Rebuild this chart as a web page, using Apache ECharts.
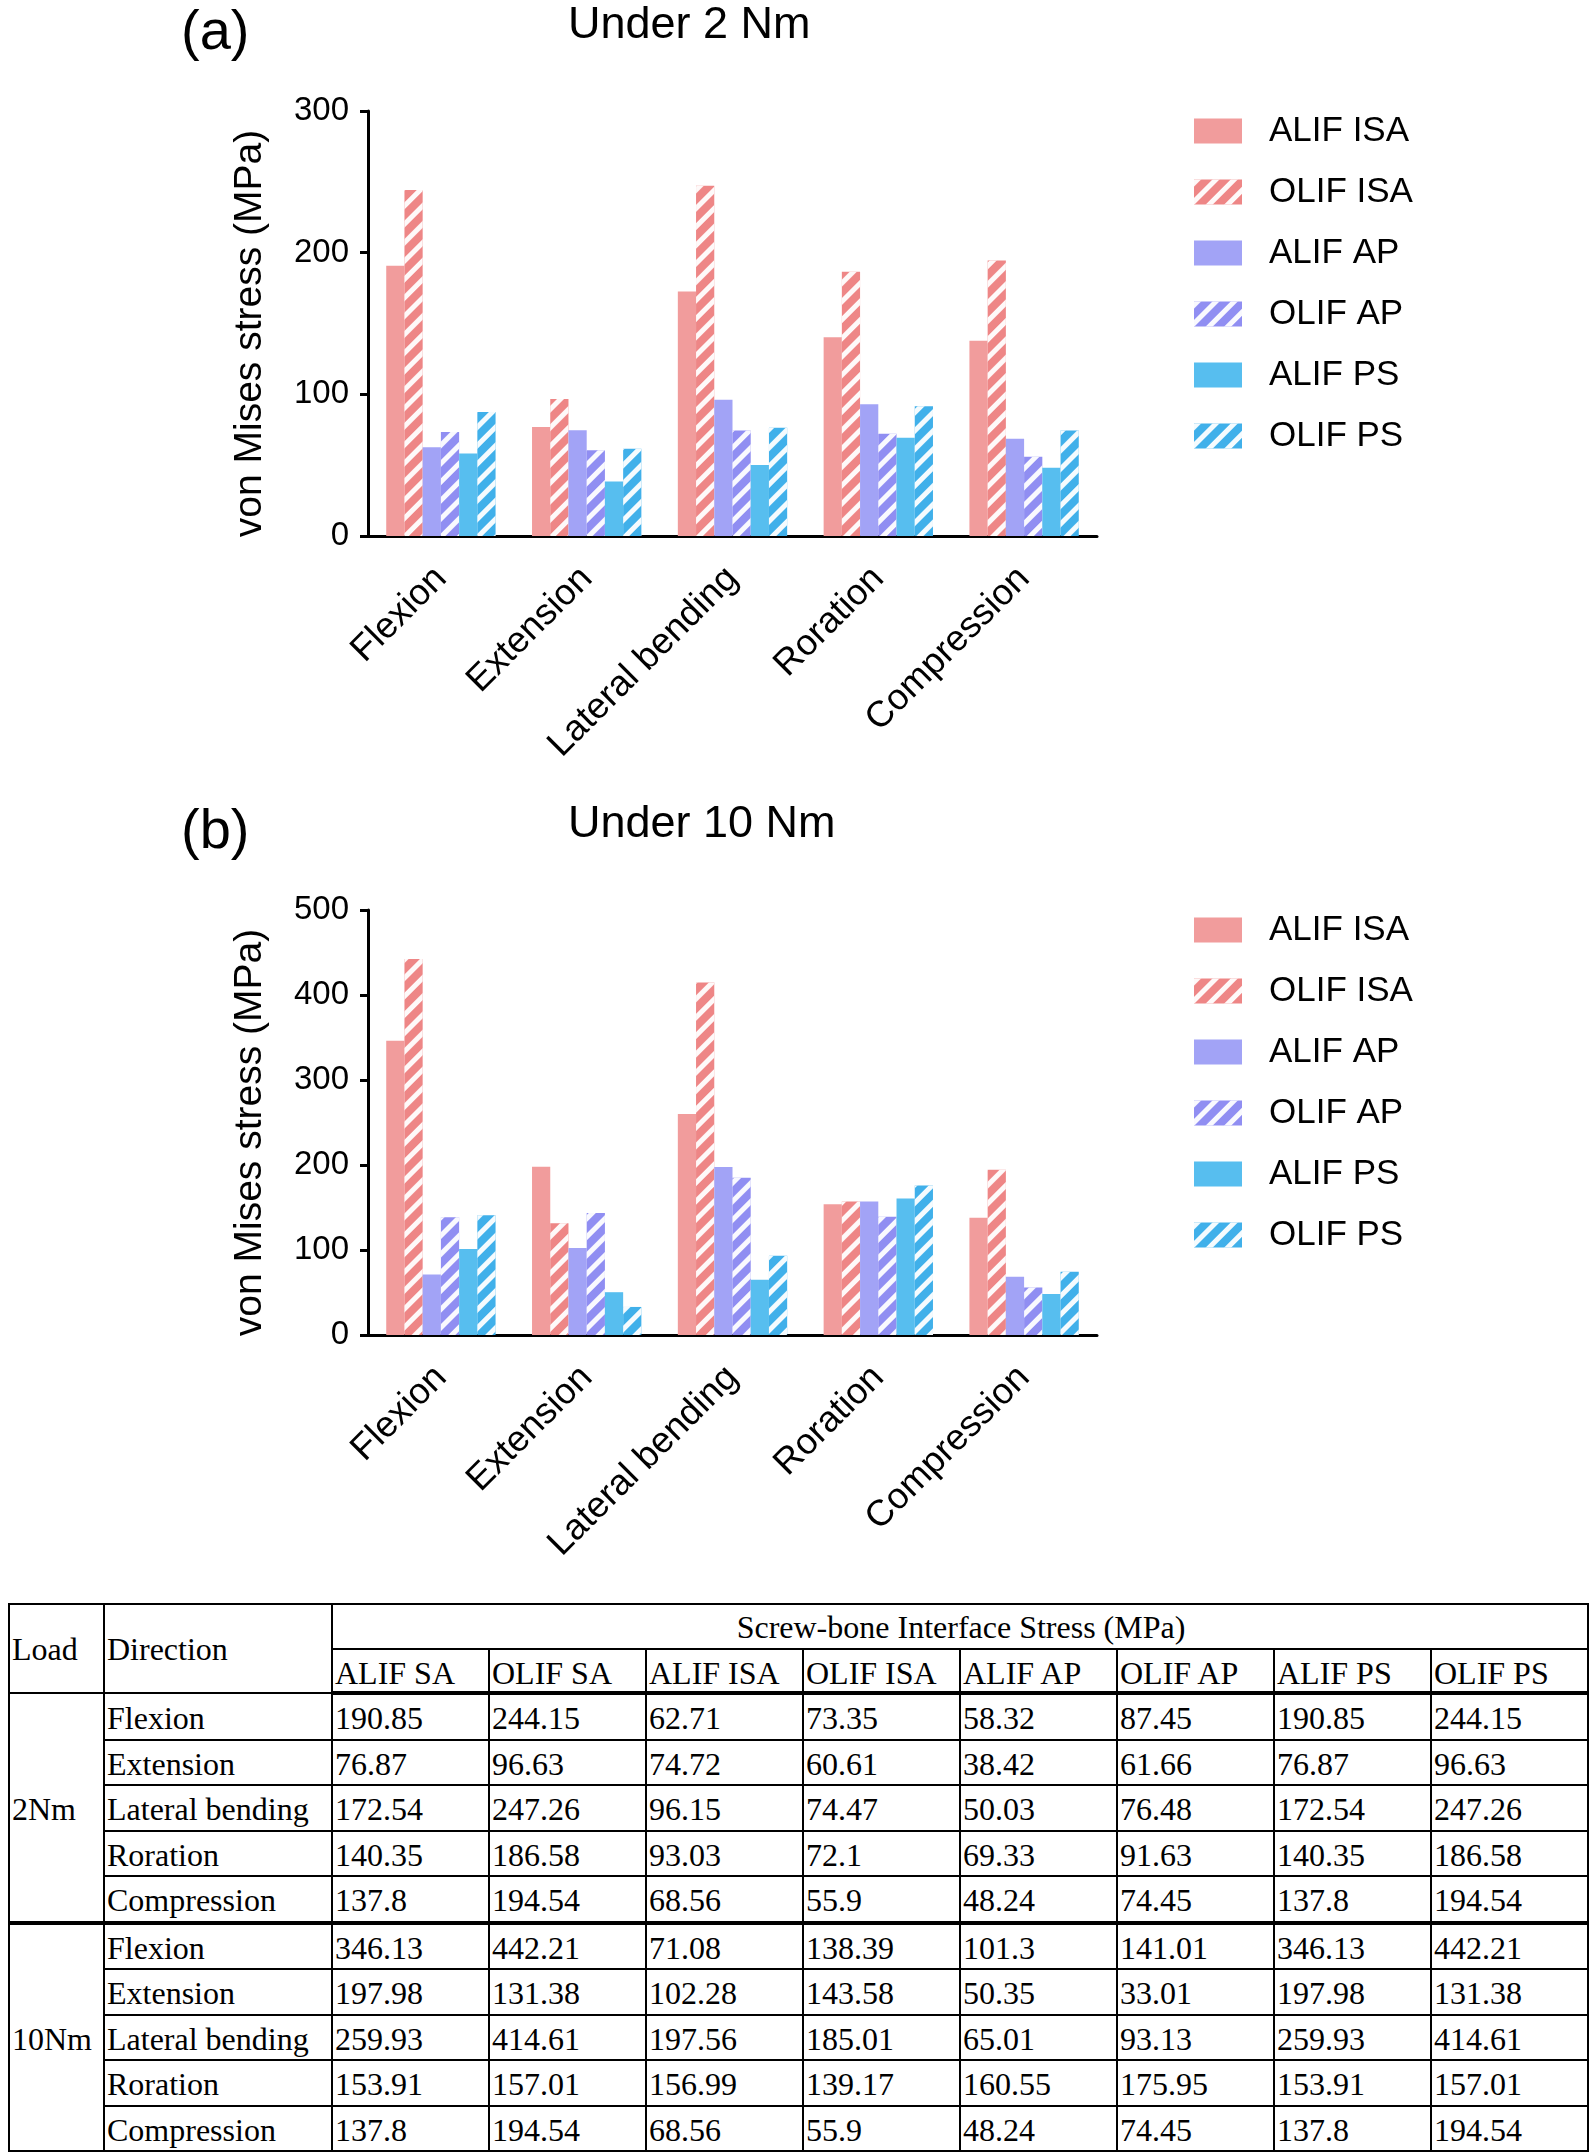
<!DOCTYPE html>
<html>
<head>
<meta charset="utf-8">
<script src="https://cdn.jsdelivr.net/npm/echarts@6/dist/echarts.min.js"></script>
<style>
  html, body { margin: 0; padding: 0; background: #fff; }
  body { width: 1594px; height: 2156px; position: relative; overflow: hidden; }
  #chart { position: absolute; left: 0; top: 0; width: 1594px; height: 1600px; }
  #tbl { position: absolute; left: 8px; top: 1603px; border-collapse: collapse; table-layout: fixed;
         font-family: 'Liberation Serif', 'Times New Roman', serif; font-size: 32px; color: #000; }
  #tbl td { border: 2px solid #000; padding: 0 0 0 2px; line-height: 1; vertical-align: middle; white-space: nowrap; overflow: hidden; }
  #tbl td.c { text-align: center; }
  #tbl tr.h1 td { height: 43px; }
  #tbl tr.h2 td { height: 36px; padding-top: 5px; }
  #tbl tr.d td { height: 40.5px; padding-top: 3px; }
  #tbl tr.sep td { border-bottom: 4px solid #000; }
</style>
</head>
<body>
<div id="chart"></div>
<table id="tbl"></table>
<script>
// ---------------- data ----------------
const categories = ['Flexion', 'Extension', 'Lateral bending', 'Roration', 'Compression'];
const legendNames = ['ALIF ISA', 'OLIF ISA', 'ALIF AP', 'OLIF AP', 'ALIF PS', 'OLIF PS'];
const tableColumns = ['ALIF SA', 'OLIF SA', 'ALIF ISA', 'OLIF ISA', 'ALIF AP', 'OLIF AP', 'ALIF PS', 'OLIF PS'];
const loadLabels = ['2Nm', '10Nm'];
const chartTitles = ['Under 2 Nm', 'Under 10 Nm'];
const panelLabels = ['(a)', '(b)'];
const yTicks2Nm = [0, 100, 200, 300];
const yTicks10Nm = [0, 100, 200, 300, 400, 500];

// 2 Nm, per table column, rows = categories
const nm2AlifSA  = [190.85, 76.87, 172.54, 140.35, 137.8];
const nm2OlifSA  = [244.15, 96.63, 247.26, 186.58, 194.54];
const nm2AlifISA = [62.71, 74.72, 96.15, 93.03, 68.56];
const nm2OlifISA = [73.35, 60.61, 74.47, 72.1, 55.9];
const nm2AlifAP  = [58.32, 38.42, 50.03, 69.33, 48.24];
const nm2OlifAP  = [87.45, 61.66, 76.48, 91.63, 74.45];
const nm2AlifPS  = [190.85, 76.87, 172.54, 140.35, 137.8];
const nm2OlifPS  = [244.15, 96.63, 247.26, 186.58, 194.54];

// 10 Nm
const nm10AlifSA  = [346.13, 197.98, 259.93, 153.91, 137.8];
const nm10OlifSA  = [442.21, 131.38, 414.61, 157.01, 194.54];
const nm10AlifISA = [71.08, 102.28, 197.56, 156.99, 68.56];
const nm10OlifISA = [138.39, 143.58, 185.01, 139.17, 55.9];
const nm10AlifAP  = [101.3, 50.35, 65.01, 160.55, 48.24];
const nm10OlifAP  = [141.01, 33.01, 93.13, 175.95, 74.45];
const nm10AlifPS  = [346.13, 197.98, 259.93, 153.91, 137.8];
const nm10OlifPS  = [442.21, 131.38, 414.61, 157.01, 194.54];

const nm2Columns = [nm2AlifSA, nm2OlifSA, nm2AlifISA, nm2OlifISA, nm2AlifAP, nm2OlifAP, nm2AlifPS, nm2OlifPS];
const nm10Columns = [nm10AlifSA, nm10OlifSA, nm10AlifISA, nm10OlifISA, nm10AlifAP, nm10OlifAP, nm10AlifPS, nm10OlifPS];
// the bar charts show the first six table columns under the legend names
const nm2Bars = nm2Columns.slice(0, 6);
const nm10Bars = nm10Columns.slice(0, 6);

// ---------------- styles ----------------
const FONT = "'Liberation Sans', Arial, Helvetica, sans-serif";
const seriesColors = ['#F19C9C', '#EE8686', '#A2A3F6', '#908EF2', '#57BEEF', '#40B0EA'];
const hatched = [false, true, false, true, false, true];
const hatchDecal = {
  symbol: 'rect', symbolSize: 1, color: 'rgba(255,255,255,0.95)',
  dashArrayX: [1, 0], dashArrayY: [5, 8], rotation: -Math.PI / 4
};

const grids = [
  { left: 368, top: 111, width: 729, height: 425, outerBoundsMode: 'none' },
  { left: 368, top: 910, width: 729, height: 425, outerBoundsMode: 'none' }
];
const yMax = [yTicks2Nm[yTicks2Nm.length - 1], yTicks10Nm[yTicks10Nm.length - 1]];

function xAxis(i) {
  return {
    type: 'category', gridIndex: i, data: categories,
    axisLine: { lineStyle: { color: '#000', width: 3 } },
    axisTick: { alignWithLabel: true, length: 9, lineStyle: { color: '#000', width: 4 } },
    axisLabel: { interval: 0, rotate: 45, margin: 37, color: '#000', fontSize: 36.5, fontFamily: FONT }
  };
}
function yAxis(i) {
  return {
    type: 'value', gridIndex: i, min: 0, max: yMax[i], interval: 100,
    name: 'von Mises stress (MPa)', nameLocation: 'middle', nameGap: 98, nameMoveOverlap: false,
    nameTextStyle: { color: '#000', fontSize: 39, fontFamily: FONT, padding: [0, 20, 0, 0] },
    splitLine: { show: false },
    axisLine: { show: true, lineStyle: { color: '#000', width: 3 } },
    axisTick: { show: true, length: 8, lineStyle: { color: '#000', width: 3 } },
    axisLabel: { margin: 19, color: '#000', fontSize: 33, fontFamily: FONT }
  };
}

const series = [];
[nm2Bars, nm10Bars].forEach((bars, g) => {
  bars.forEach((vals, k) => {
    const itemStyle = { color: seriesColors[k] };
    if (hatched[k]) itemStyle.decal = hatchDecal;
    series.push({
      type: 'bar', name: legendNames[k], xAxisIndex: g, yAxisIndex: g,
      data: vals, barGap: '0%', barCategoryGap: '25%', itemStyle: itemStyle
    });
  });
});

function legend(top) {
  return {
    orient: 'vertical', left: 1189, top: top, data: legendNames,
    itemWidth: 48, itemHeight: 25, itemGap: 25, icon: 'rect', selectedMode: false,
    textStyle: { color: '#000', fontSize: 35, lineHeight: 36, fontFamily: FONT, padding: [0, 0, 0, 22] }
  };
}

const graphics = [];
[0, 1].forEach(g => {
  const dy = g * 799;
  graphics.push({ type: 'text', x: 568, y: 26 + dy,
    style: { text: chartTitles[g], font: '45px ' + FONT, fill: '#000', align: 'left', verticalAlign: 'middle' } });
  graphics.push({ type: 'text', x: 181, y: 34 + dy,
    style: { text: panelLabels[g], font: '56px ' + FONT, fill: '#000', align: 'left', verticalAlign: 'middle' } });
});

const chart = echarts.init(document.getElementById('chart'), null, { renderer: 'canvas' });
chart.setOption({
  animation: false,
  backgroundColor: '#fff',
  grid: grids,
  xAxis: [xAxis(0), xAxis(1)],
  yAxis: [yAxis(0), yAxis(1)],
  legend: [legend(108), legend(907)],
  series: series,
  graphic: graphics
});

// ---------------- table ----------------
const tbl = document.getElementById('tbl');
let html = '<colgroup><col style="width:95px"><col style="width:228px">';
tableColumns.forEach(() => { html += '<col style="width:157px">'; });
html += '</colgroup>';
html += '<tr class="h1"><td rowspan="2">Load</td><td rowspan="2">Direction</td><td class="c" colspan="8">Screw-bone Interface Stress (MPa)</td></tr>';
html += '<tr class="h2 sep">' + tableColumns.map(c => '<td>' + c + '</td>').join('') + '</tr>';
[nm2Columns, nm10Columns].forEach((cols, g) => {
  categories.forEach((cat, r) => {
    const last = r === categories.length - 1 && g === 0;
    html += '<tr class="d' + (last ? ' sep' : '') + '">';
    if (r === 0) html += '<td rowspan="5" style="border-bottom:' + (g === 0 ? '4px' : '2px') + ' solid #000">' + loadLabels[g] + '</td>';
    html += '<td>' + cat + '</td>';
    cols.forEach(col => { html += '<td>' + col[r] + '</td>'; });
    html += '</tr>';
  });
});
tbl.innerHTML = html;
</script>
</body>
</html>
